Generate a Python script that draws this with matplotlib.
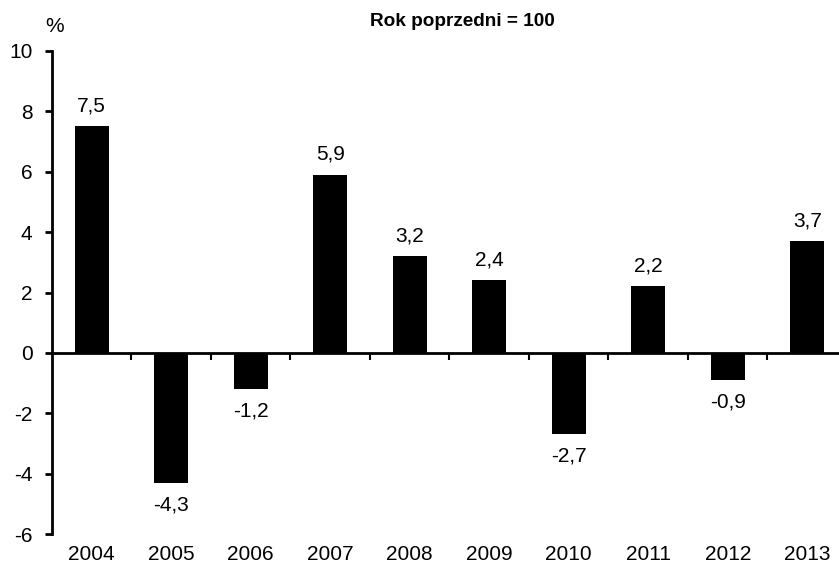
import matplotlib
matplotlib.use("Agg")
import matplotlib.pyplot as plt

years = ["2004", "2005", "2006", "2007", "2008", "2009", "2010", "2011", "2012", "2013"]
values = [7.5, -4.3, -1.2, 5.9, 3.2, 2.4, -2.7, 2.2, -0.9, 3.7]
labels = ["7,5", "-4,3", "-1,2", "5,9", "3,2", "2,4", "-2,7", "2,2", "-0,9", "3,7"]
yticks = [-6, -4, -2, 0, 2, 4, 6, 8, 10]

plt.rcParams['font.family'] = ['Liberation Sans', 'DejaVu Sans']
FS = 15

fig = plt.figure(figsize=(8.39, 5.68), dpi=100)
ax = fig.add_axes([52/839, 34/568, 1 - 52/839, (534-51)/568])

x = list(range(len(years)))
ax.bar(x, values, width=0.43, color="black", zorder=2)

ax.set_xlim(-0.5, 9.40)
ax.set_ylim(-6, 10)
ax.set_yticks(yticks)
ax.set_yticklabels([str(t) for t in yticks], fontsize=FS)
ax.set_xticks(x)
ax.set_xticklabels(years, fontsize=FS)
ax.tick_params(axis='x', length=0, pad=8)
ax.tick_params(axis='y', direction='out', length=5, width=2, pad=9)

for s in ["top", "right", "bottom"]:
    ax.spines[s].set_visible(False)
ax.spines["left"].set_linewidth(2)

sec = ax.secondary_xaxis(6/16)
sec.set_xticks([i + 0.5 for i in range(len(years) - 1)])
sec.set_xticklabels([])
sec.tick_params(direction='out', length=5, width=1.5)
sec.spines["bottom"].set_linewidth(2)
sec.spines["bottom"].set_zorder(3)

for xi, v, lab in zip(x, values, labels):
    if v >= 0:
        ax.annotate(lab, (xi, v), xytext=(0, 8), textcoords="offset points",
                    ha="center", va="bottom", fontsize=FS)
    else:
        ax.annotate(lab, (xi, v), xytext=(0, -9), textcoords="offset points",
                    ha="center", va="top", fontsize=FS)

fig.text(462/839, 1 - 22/568, "Rok poprzedni = 100", ha="center", va="center",
         fontsize=13.7, fontweight="bold")
fig.text(55/839, 1 - 26/568, "%", ha="center", va="center", fontsize=FS)

fig.savefig("out.png", dpi=100)
